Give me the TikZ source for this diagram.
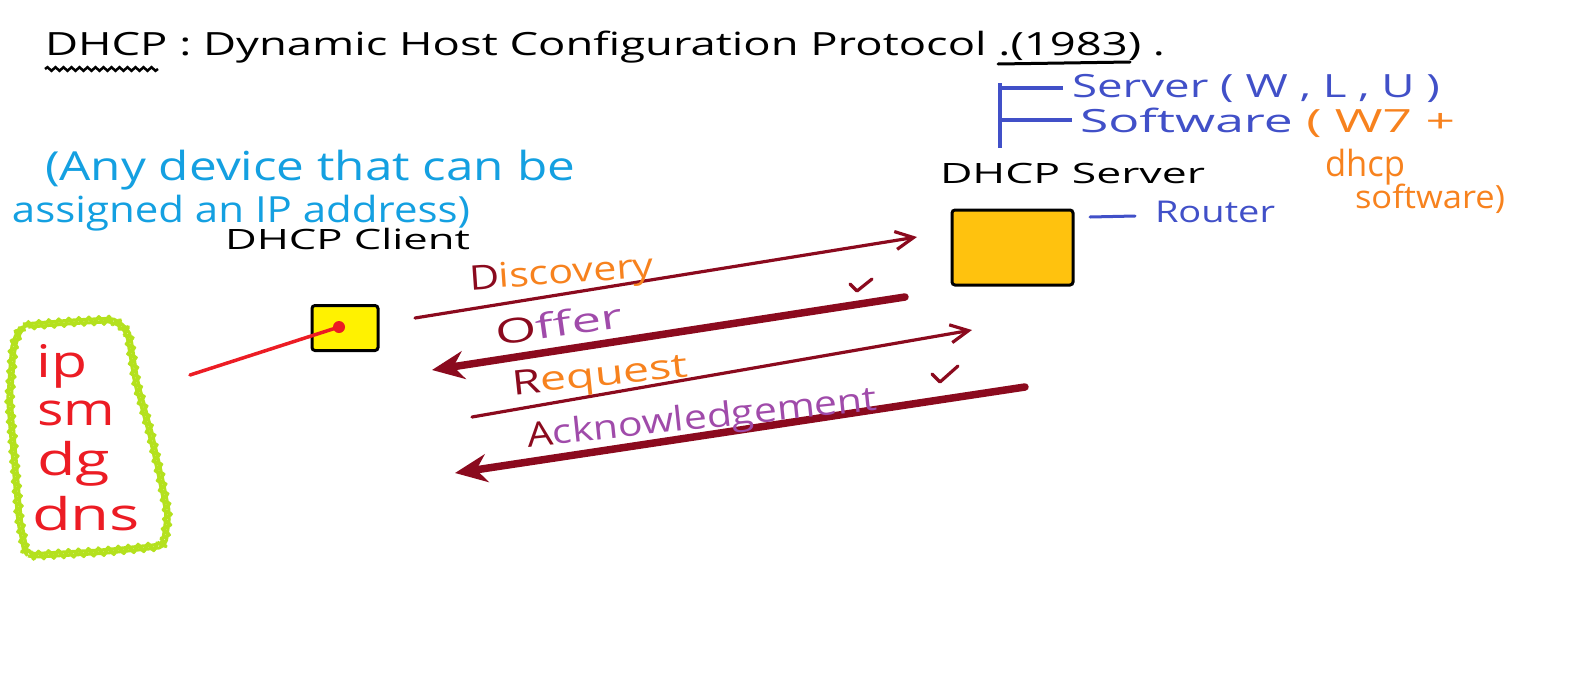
\documentclass[tikz,border=0pt]{standalone}
\usepackage{fontspec}
\usepackage{graphicx}
\setmainfont{Open Sans}
\usetikzlibrary{arrows.meta,decorations.pathmorphing}
\definecolor{dkred}{RGB}{139,10,30}
\definecolor{orng}{RGB}{247,130,30}
\definecolor{purp}{RGB}{160,75,170}
\definecolor{srvblue}{RGB}{65,80,200}
\definecolor{ltblue}{RGB}{20,160,225}
\definecolor{redc}{RGB}{236,28,36}
\definecolor{grn}{RGB}{180,225,30}
\definecolor{srvfill}{RGB}{255,194,14}
\definecolor{clfill}{RGB}{255,242,0}
\newcommand{\hwtext}[2]{\resizebox{#1}{\height}{#2}}
\begin{document}
\begin{tikzpicture}[x=1pt,y=-1pt,
  every node/.style={inner sep=0pt,outer sep=0pt},
  hand/.style={anchor=base west,font=\fontsize{#1}{#1}\selectfont},
  hand/.default=32,
  msgthin/.style={dkred,line width=3.2pt,line cap=round,-{Straight Barb[length=18pt,width=18pt]}},
  msgthick/.style={dkred,line width=7.5pt,line cap=round,-{Stealth[length=32pt,width=28pt]}},
  tick/.style={dkred,line width=3.2pt,line cap=round,line join=round},
  devbox/.style={draw=black,line width=3pt,rounded corners=3pt}]
\useasboundingbox (0,0) rectangle (1579,683);

% title
\node[hand=32] (title) at (45,55) {\hwtext{1120pt}{DHCP : Dynamic Host Configuration Protocol .(1983) .}};
\draw[black,line width=2.5pt,decorate,decoration={snake,amplitude=1.8pt,segment length=8pt}] (45,69) -- (158,69);
\draw[black,line width=3pt,line cap=round] (998,64) -- (1130,62);

% server options
\draw[srvblue,line width=3.2pt] (1000,83) -- (1000,148);
\draw[srvblue,line width=3.2pt] (1000,88) -- (1063,88);
\draw[srvblue,line width=3.2pt] (1000,120) -- (1072,120);
\node[hand=32,text=srvblue] (srvos) at (1072,97) {\hwtext{368pt}{Server ( W , L , U )}};
\node[hand=32] (soft) at (1080,132) {\hwtext{375pt}{\color{srvblue}Software \color{orng}( W7 +}};
\node[hand=36,text=orng] (dhcpsw) at (1325,176) {\hwtext{80pt}{dhcp}};
\node[hand=32,text=orng] (swpar) at (1355,208) {\hwtext{150pt}{software)}};

% server
\node[hand=28] (srvlbl) at (940,183) {\hwtext{265pt}{DHCP Server}};
\node[devbox,fill=srvfill,minimum width=121pt,minimum height=75pt] (server) at (1012.5,247.5) {};
\node[hand=30,text=srvblue] (router) at (1155,222) {\hwtext{120pt}{Router}};
\coordinate (rdash) at (1090,217);
\draw[srvblue,line width=3pt,line cap=round] (rdash) -- ++(45,-1);

% client
\node[hand=40,text=ltblue] (any1) at (45,180) {\hwtext{530pt}{(Any device that can be}};
\node[hand=36,text=ltblue] (any2) at (12,222) {\hwtext{458pt}{assigned an IP address)}};
\node[hand=28] (cllbl) at (225,249) {\hwtext{245pt}{DHCP Client}};
\node[devbox,fill=clfill,minimum width=66pt,minimum height=45pt] (client) at (345,328) {};
\node[circle,fill=redc,minimum size=12pt] (dot) at (339,327) {};
\coordinate (redend) at (190,375);
\draw[redc,line width=3.5pt,line cap=round] (redend) -- (dot.center);

% parameter list
\draw[grn,line width=3pt,decorate,decoration={snake,amplitude=1.8pt,segment length=10pt},rounded corners=6pt]
  (20,326) -- (70,322) -- (112,320) -- (126,332) -- (134,382) -- (148,432) -- (158,475) -- (166,515) -- (162,546) -- (100,552) -- (25,556) -- (18,520) -- (13,460) -- (8,400) -- (12,345) -- cycle;
\node[hand=45,text=redc] (ip) at (37,377) {\hwtext{51pt}{ip}};
\node[hand=45,text=redc] (sm) at (37,425) {\hwtext{78pt}{sm}};
\node[hand=45,text=redc] (dg) at (37,475) {\hwtext{73pt}{dg}};
\node[hand=45,text=redc] (dns) at (32,530) {\hwtext{108pt}{dns}};

% messages
\coordinate (d1) at (415,318); \coordinate (d2) at (917,237);
\draw[msgthin] (d1) -- (d2);
\coordinate (o1) at (905,297); \coordinate (o2) at (432,370);
\draw[msgthick] (o1) -- (o2);
\coordinate (r1) at (472,417); \coordinate (r2) at (972,330);
\draw[msgthin] (r1) -- (r2);
\coordinate (a1) at (1025,387); \coordinate (a2) at (455,473);
\draw[msgthick] (a1) -- (a2);

\draw[tick] (850,284) -- (857,291) -- (872,279);
\draw[tick] (932,374) -- (940,382) -- (958,366);

\node[hand=34,rotate=4] (disc) at (470,290) {\hwtext{185pt}{\color{dkred}D\color{orng}iscovery}};
\node[hand=34,rotate=8] (offer) at (497,345) {\hwtext{128pt}{\color{dkred}O\color{purp}ffer}};
\node[hand=34,rotate=6] (req) at (513,395) {\hwtext{177pt}{\color{dkred}R\color{orng}equest}};
\node[hand=34,rotate=6] (ack) at (528,447) {\hwtext{352pt}{\color{dkred}A\color{purp}cknowledgement}};
\end{tikzpicture}
\end{document}
